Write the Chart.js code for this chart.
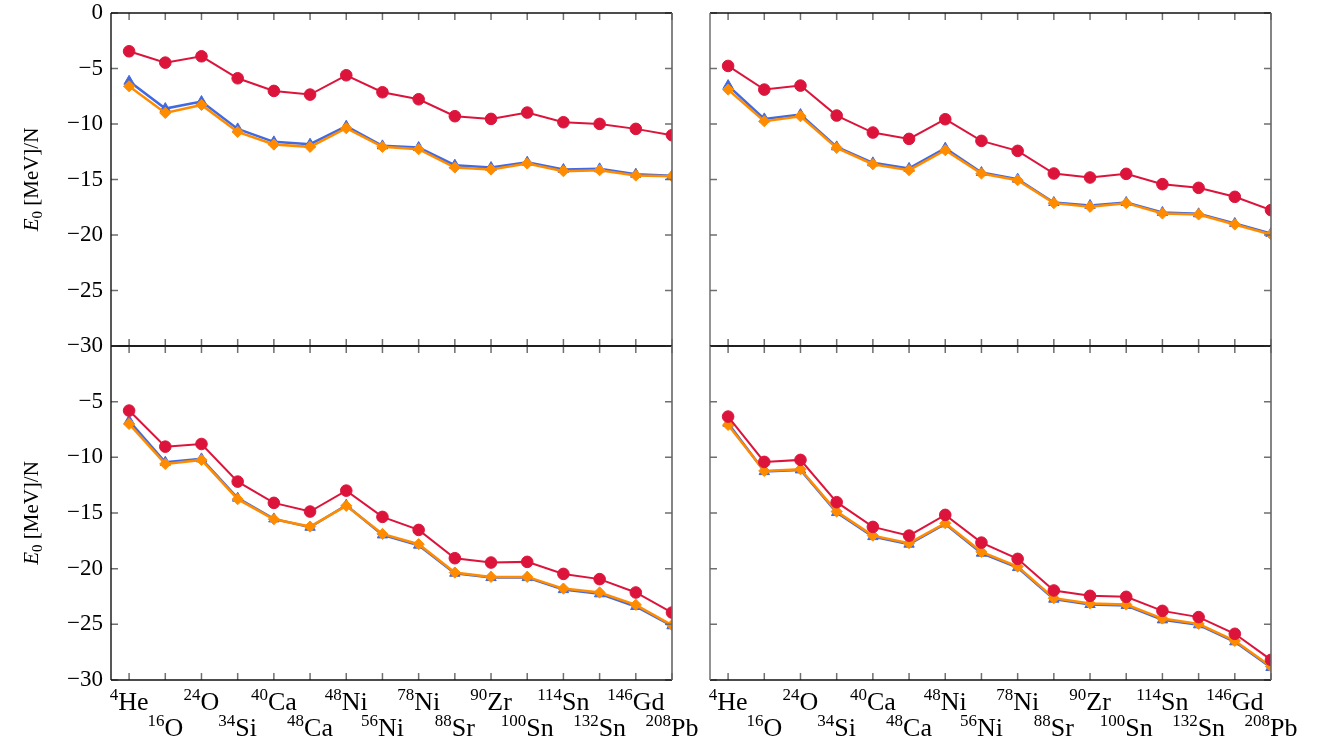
<!DOCTYPE html>
<html><head><meta charset="utf-8">
<script src="https://cdn.jsdelivr.net/npm/chart.js@4.4.0/dist/chart.umd.min.js"></script>
<style>
html,body{margin:0;padding:0;background:#fff;width:1325px;height:743px;overflow:hidden;position:relative}
canvas{position:absolute;left:0;top:-40px}
</style></head>
<body>
<canvas id="c0" width="1325" height="823"></canvas>
<canvas id="c1" width="1325" height="823"></canvas>
<canvas id="c2" width="1325" height="823"></canvas>
<canvas id="c3" width="1325" height="823"></canvas>
<script>
// ---- data ----
const massNumbers = ['4','16','24','34','40','48','48','56','78','88','90','100','114','132','146','208'];
const elementSymbols = ['He','O','O','Si','Ca','Ca','Ni','Ni','Ni','Sr','Zr','Sn','Sn','Sn','Gd','Pb'];
const yTickValues = [0,-5,-10,-15,-20,-25,-30];
const yTitle = ['E','0',' [MeV]/N'];

const topLeftRed    = [-3.45,-4.47,-3.90,-5.88,-7.02,-7.35,-5.61,-7.14,-7.77,-9.30,-9.54,-8.97,-9.84,-9.99,-10.44,-11.01];
const topLeftBlue   = [-6.15,-8.61,-7.98,-10.44,-11.61,-11.82,-10.20,-11.97,-12.12,-13.71,-13.92,-13.44,-14.10,-14.04,-14.52,-14.67];
const topLeftOrange = [-6.60,-9.00,-8.28,-10.71,-11.85,-12.06,-10.38,-12.06,-12.27,-13.92,-14.10,-13.56,-14.25,-14.16,-14.64,-14.70];

const topRightRed    = [-4.77,-6.90,-6.54,-9.24,-10.77,-11.34,-9.57,-11.52,-12.42,-14.46,-14.82,-14.49,-15.42,-15.75,-16.56,-17.76];
const topRightBlue   = [-6.54,-9.54,-9.15,-12.06,-13.50,-14.00,-12.18,-14.37,-14.97,-17.07,-17.34,-17.07,-17.97,-18.09,-18.96,-19.86];
const topRightOrange = [-6.90,-9.75,-9.30,-12.15,-13.62,-14.16,-12.36,-14.46,-15.06,-17.13,-17.46,-17.13,-18.06,-18.15,-19.05,-19.95];

const bottomLeftRed    = [-5.80,-9.04,-8.80,-12.18,-14.09,-14.87,-12.99,-15.35,-16.52,-19.06,-19.45,-19.39,-20.47,-20.94,-22.14,-23.94];
const bottomLeftBlue   = [-6.73,-10.44,-10.14,-13.67,-15.53,-16.28,-14.30,-16.97,-17.89,-20.41,-20.80,-20.80,-21.88,-22.26,-23.40,-25.13];
const bottomLeftOrange = [-7.00,-10.59,-10.23,-13.76,-15.56,-16.22,-14.36,-16.88,-17.80,-20.35,-20.74,-20.74,-21.79,-22.14,-23.25,-25.07];

const bottomRightRed    = [-6.34,-10.41,-10.23,-14.03,-16.25,-17.03,-15.17,-17.66,-19.12,-21.96,-22.44,-22.53,-23.79,-24.35,-25.85,-28.19];
const bottomRightBlue   = [-6.94,-11.28,-11.13,-14.96,-17.12,-17.80,-15.98,-18.61,-19.90,-22.74,-23.22,-23.31,-24.60,-25.04,-26.57,-28.88];
const bottomRightOrange = [-7.09,-11.22,-11.07,-14.87,-17.03,-17.71,-15.92,-18.49,-19.81,-22.65,-23.13,-23.22,-24.48,-24.96,-26.48,-28.79];

// ---- styling ----
const RED = '#dc143c', BLUE = '#4169e1', ORANGE = '#ff8c00';
const OFF = 40;               // canvases are shifted up by OFF px
const W = 1325, H = 743 + 2 * OFF;
const SERIF = "'Liberation Serif', 'DejaVu Serif', serif";
const YAXIS_W = 55;

function fmt(v){ return v < 0 ? '\u2212' + Math.abs(v) : String(v); }

const framePlugin = {
  id: 'frame',
  afterDraw(chart, args, o) {
    const ctx = chart.ctx, a = chart.chartArea;
    const xs = chart.scales.x, ys = chart.scales.y;
    ctx.save();
    // inner tick marks
    ctx.strokeStyle = '#6f6f6f'; ctx.lineWidth = 1.5;
    ctx.beginPath();
    yTickValues.forEach(v => {
      const py = ys.getPixelForValue(v);
      ctx.moveTo(a.left, py); ctx.lineTo(a.left + 7, py);
      ctx.moveTo(a.right, py); ctx.lineTo(a.right - 7, py);
    });
    massNumbers.forEach((m, i) => {
      const px = xs.getPixelForValue(i);
      ctx.moveTo(px, a.top); ctx.lineTo(px, a.top + 7);
      ctx.moveTo(px, a.bottom); ctx.lineTo(px, a.bottom - 7);
    });
    ctx.stroke();
    // frame
    const side = (x1,y1,x2,y2,c,w) => { ctx.strokeStyle=c; ctx.lineWidth=w; ctx.beginPath(); ctx.moveTo(x1,y1); ctx.lineTo(x2,y2); ctx.stroke(); };
    side(a.left, a.top, a.right, a.top, '#111', 1.4);
    side(a.left, a.bottom, a.right, a.bottom, '#111', 1.4);
    side(a.left, a.top, a.left, a.bottom, o.leftPanel ? '#111' : '#666', 1.4);
    side(a.right, a.top, a.right, a.bottom, '#666', 1.6);
    // x labels with superscript mass numbers
    if (o.xLabels) {
      ctx.fillStyle = '#000';
      ctx.textBaseline = 'alphabetic'; ctx.textAlign = 'left';
      massNumbers.forEach((m, i) => {
        const px = xs.getPixelForValue(i);
        ctx.font = '17px ' + SERIF; const ws = ctx.measureText(m).width;
        ctx.font = '26px ' + SERIF; const wm = ctx.measureText(elementSymbols[i]).width;
        const x0 = px - (ws + wm) / 2;
        const yb = OFF + ((i % 2 === 0) ? 710 : 736);
        ctx.font = '17px ' + SERIF; ctx.fillText(m, x0, yb - 10);
        ctx.font = '26px ' + SERIF; ctx.fillText(elementSymbols[i], x0 + ws, yb);
      });
    }
    // y title
    if (o.leftPanel) {
      const cy = (a.top + a.bottom) / 2;
      ctx.translate(38, cy); ctx.rotate(-Math.PI / 2);
      ctx.fillStyle = '#000'; ctx.textBaseline = 'alphabetic'; ctx.textAlign = 'left';
      ctx.font = 'italic 21px ' + SERIF; const w1 = ctx.measureText(yTitle[0]).width;
      ctx.font = '15px ' + SERIF; const w2 = ctx.measureText(yTitle[1]).width;
      ctx.font = '21px ' + SERIF; const w3 = ctx.measureText(yTitle[2]).width;
      let x = -(w1 + w2 + w3) / 2;
      ctx.font = 'italic 21px ' + SERIF; ctx.fillText(yTitle[0], x, 0); x += w1;
      ctx.font = '15px ' + SERIF; ctx.fillText(yTitle[1], x, 4); x += w2;
      ctx.font = '21px ' + SERIF; ctx.fillText(yTitle[2], x, 0);
    }
    ctx.restore();
  }
};

function pts(arr){ return arr.map((v, i) => ({x: i, y: v})); }

function makePanel(id, area, red, blue, orange, opts) {
  const ds = (label, data, color, style, r, bw) => ({
    label, data: pts(data), borderColor: color, backgroundColor: color,
    pointBackgroundColor: color, pointBorderColor: color, pointBorderWidth: 1,
    pointStyle: style, pointRadius: r, borderWidth: bw, tension: 0
  });
  const yw = opts.leftPanel ? YAXIS_W : 0;
  new Chart(document.getElementById(id), {
    type: 'line',
    data: { datasets: [
      ds('red', red, RED, 'circle', 5.8, 2),
      ds('orange', orange, ORANGE, 'rectRot', 5.6, 2.5),
      ds('blue', blue, BLUE, 'triangle', 6, 2.5)
    ]},
    plugins: [framePlugin],
    options: {
      responsive: false, animation: false, events: [],
      layout: { padding: { left: area.left - yw, top: area.top + OFF, right: W - area.right, bottom: H - area.bottom - OFF } },
      plugins: { legend: { display: false }, tooltip: { enabled: false },
                 frame: { leftPanel: opts.leftPanel, xLabels: opts.xLabels } },
      scales: {
        x: { type: 'linear', min: -0.5, max: 15, display: false },
        y: { type: 'linear', min: -30, max: 0, display: opts.leftPanel,
             afterFit: s => { s.width = yw; },
             grid: { display: false, drawTicks: false }, border: { display: false },
             ticks: { stepSize: 5, padding: 8, color: '#000',
                      font: { family: SERIF, size: 23, lineHeight: 1 },
                      callback: v => (opts.hideZero && v === 0) ? '' : fmt(v) } }
      }
    }
  });
}

makePanel('c0', {left:111, right:672, top:13, bottom:346}, topLeftRed, topLeftBlue, topLeftOrange, {leftPanel:true, xLabels:false, hideZero:false});
makePanel('c1', {left:710, right:1271, top:13, bottom:346}, topRightRed, topRightBlue, topRightOrange, {leftPanel:false, xLabels:false});
makePanel('c2', {left:111, right:672, top:346, bottom:680}, bottomLeftRed, bottomLeftBlue, bottomLeftOrange, {leftPanel:true, xLabels:true, hideZero:true});
makePanel('c3', {left:710, right:1271, top:346, bottom:680}, bottomRightRed, bottomRightBlue, bottomRightOrange, {leftPanel:false, xLabels:true});
</script>
</body></html>
